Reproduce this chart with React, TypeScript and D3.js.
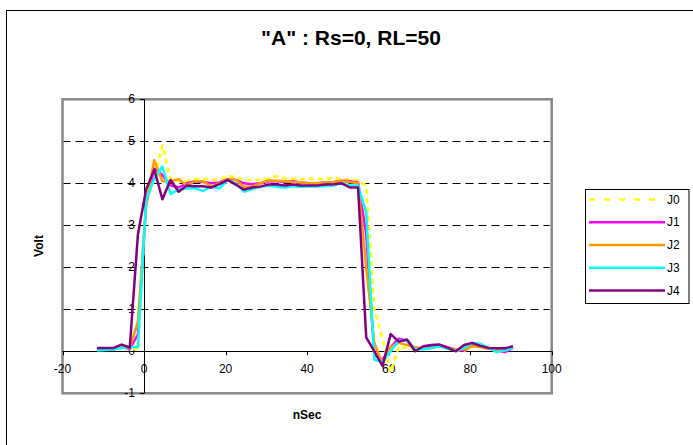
import * as d3 from 'd3'

// time axis (nSec), one sample every 2 ns
const times = [
  -11.5, -9.5, -7.5, -5.5, -3.5, -1.5, 0.5, 2.5, 4.5, 6.5, 8.5, 10.5,
  12.5, 14.5, 16.5, 18.5, 20.5, 22.5, 24.5, 26.5, 28.5, 30.5, 32.5, 34.5,
  36.5, 38.5, 40.5, 42.5, 44.5, 46.5, 48.5, 50.5, 52.5, 54.5, 56.5, 58.5,
  60.5, 62.5, 64.5, 66.5, 68.5, 70.5, 72.5, 74.5, 76.5, 78.5, 80.5, 82.5,
  84.5, 86.5, 88.5, 90.5,
]

const j0 = [
  0.05, 0.05, 0.06, 0.1, 0.06,
  0.05, 3.5, 4.1, 4.9, 4.1, 4.05, 4.05,
  4.1, 4.1, 4.1, 4.08, 4.18, 4.14, 4.09, 4.07, 4.09, 4.12, 4.17, 4.12, 4.11, 4.1, 4.1, 4.1, 4.1, 4.14, 4.09, 4.09, 4.07,
  3.95, 1.0, 0.3, -0.5, 0.12, 0.08, 0.05,
  0.08, 0.1, 0.12, 0.05, 0.02, 0.0, 0.12, 0.15, 0.08, 0.06, 0.05, 0.08,
]
const j1 = [
  0.04, 0.04, 0.05, 0.1, 0.06,
  0.4, 3.5, 4.35, 4.2, 3.95, 3.9, 4.0,
  4.05, 4.03, 4.0, 4.02, 4.1, 4.08, 4.0, 3.98, 4.0, 4.05, 4.05, 4.03, 4.05, 4.02, 4.0, 4.0, 4.02, 4.03, 4.06, 4.05, 4.02,
  2.8, -0.1, -0.2, 0.1, 0.3, 0.25, 0.05,
  0.08, 0.1, 0.15, 0.1, 0.03, 0.02, 0.15, 0.12, 0.08, 0.02, -0.02, 0.08,
]
const j2 = [
  0.06, 0.06, 0.07, 0.1, 0.08,
  0.7, 3.5, 4.55, 4.05, 4.05, 4.1, 3.95,
  4.05, 4.05, 3.93, 4.0, 4.1, 4.08, 3.92, 3.92, 4.0, 4.07, 4.06, 4.05, 4.03, 4.02, 4.0, 4.0, 4.02, 4.03, 4.05, 4.03, 4.0,
  2.0, 0.2, -0.3, 0.1, 0.2, 0.15, 0.1,
  0.06, 0.08, 0.12, 0.08, 0.05, 0.05, 0.12, 0.1, 0.06, 0.05, 0.05, 0.08,
]
const j3 = [
  0.02, 0.03, 0.04, 0.08, 0.1,
  0.1, 3.6, 4.1, 4.4, 3.75, 3.85, 3.88,
  3.88, 3.82, 3.92, 3.88, 4.08, 4.0, 3.8, 3.86, 3.92, 3.95, 3.92, 3.9, 3.93, 3.92, 3.92, 3.93, 3.93, 3.95, 4.0, 3.95, 3.95,
  3.3, -0.2, -0.25, 0.0, 0.25, 0.25, 0.05,
  0.05, 0.08, 0.12, 0.06, 0.02, 0.08, 0.2, 0.18, 0.08, -0.02, 0.02, 0.08,
]
const j4 = [
  0.08, 0.08, 0.08, 0.16, 0.09,
  2.78, 3.85, 4.33, 3.62, 4.08, 3.8, 3.95,
  3.93, 3.93, 3.9, 3.98, 4.08, 3.97, 3.85, 3.9, 3.92, 3.97, 3.97, 3.95, 3.97, 3.95, 3.95, 3.95, 3.97, 3.98, 4.0, 3.9, 3.9,
  0.33, 0.0, -0.35, 0.41, 0.23, 0.28, 0.0,
  0.12, 0.15, 0.16, 0.08, 0.0, 0.15, 0.2, 0.13, 0.08, 0.07, 0.07, 0.12,
]

const seriesNames = ['J0', 'J1', 'J2', 'J3', 'J4']
const seriesValues = [j0, j1, j2, j3, j4]
const colors = ['#FFFF00', '#FF00FF', '#FF9900', '#00FFFF', '#800080']

const xTicks = [-20, 0, 20, 40, 60, 80, 100]
const yTicks = [-1, 0, 1, 2, 3, 4, 5, 6]
const gridTicks = [1, 2, 3, 4, 5]

const font = '"Liberation Sans", Arial, sans-serif'

export default function App() {
  const width = 693
  const height = 445

  const x = d3.scaleLinear().domain([-20, 100]).range([62.5, 551.7])
  const y = d3.scaleLinear().domain([-1, 6]).range([393.3, 99.3])

  const line = d3.line<number>()
    .x((_, i) => x(times[i]))
    .y(d => y(d))

  const legendX = 585.5
  const legendY = 189.5
  const rowGap = 22.75

  return (
    <svg width={width} height={height} style={{ position: 'absolute', left: 0, top: 0 }} fontFamily={font}>
      <rect x={0} y={0} width={width} height={height} fill="#fff" />
      {/* chart area border */}
      <rect x={6.5} y={10.5} width={720} height={460} fill="none" stroke="#000" strokeWidth={1} />

      <text x={351} y={45} textAnchor="middle" fontSize={21} fontWeight="bold">"A" : Rs=0, RL=50</text>

      {/* gridlines */}
      {gridTicks.map(t => (
        <line key={t} x1={x(-20)} x2={x(100) - 2} y1={Math.round(y(t)) + 0.5} y2={Math.round(y(t)) + 0.5}
          stroke="#000" strokeWidth={1} strokeDasharray="8,5" />
      ))}

      {/* plot frame */}
      <rect x={x(-20)} y={y(6)} width={x(100) - x(-20)} height={y(-1) - y(6)} fill="none" stroke="#888" strokeWidth={2.5} />

      {/* axes */}
      <line x1={x(-20)} x2={x(100)} y1={Math.round(y(0)) + 0.5} y2={Math.round(y(0)) + 0.5} stroke="#000" />
      <line x1={Math.round(x(0)) + 0.5} x2={Math.round(x(0)) + 0.5} y1={y(6)} y2={y(-1)} stroke="#000" />
      {xTicks.map(t => (
        <g key={t}>
          <line x1={Math.round(x(t)) + 0.5} x2={Math.round(x(t)) + 0.5} y1={y(0)} y2={y(0) + 4} stroke="#000" />
          <text x={x(t)} y={y(0) + 21.5} textAnchor="middle" fontSize={12}>{t}</text>
        </g>
      ))}
      {yTicks.map(t => (
        <g key={t}>
          <line x1={x(0) - 4} x2={x(0)} y1={Math.round(y(t)) + 0.5} y2={Math.round(y(t)) + 0.5} stroke="#000" />
          <text x={x(0) - 9} y={y(t)} dy="0.33em" textAnchor="end" fontSize={12}>{t}</text>
        </g>
      ))}

      {/* series */}
      {seriesValues.map((vals, i) => (
        <path key={seriesNames[i]} d={line(vals) ?? ''} fill="none" stroke={colors[i]}
          strokeWidth={2.5} strokeLinejoin="round"
          strokeDasharray={i === 0 ? '5,4' : undefined} />
      ))}

      <text transform="translate(42.5,246) rotate(-90)" textAnchor="middle" fontSize={12} fontWeight="bold">Volt</text>
      <text x={307} y={419} textAnchor="middle" fontSize={12} fontWeight="bold">nSec</text>

      {/* legend */}
      <rect x={legendX} y={legendY} width={103.5} height={114} fill="#fff" stroke="#000" strokeWidth={1} />
      {seriesNames.map((name, i) => {
        const ly = legendY + 10 + i * rowGap
        return (
          <g key={name}>
            <line x1={589} x2={665} y1={ly} y2={ly} stroke={colors[i]} strokeWidth={2.5}
              strokeDasharray={i === 0 ? '6,9' : undefined} />
            <text x={667} y={ly} dy="0.35em" fontSize={12}>{name}</text>
          </g>
        )
      })}
    </svg>
  )
}
